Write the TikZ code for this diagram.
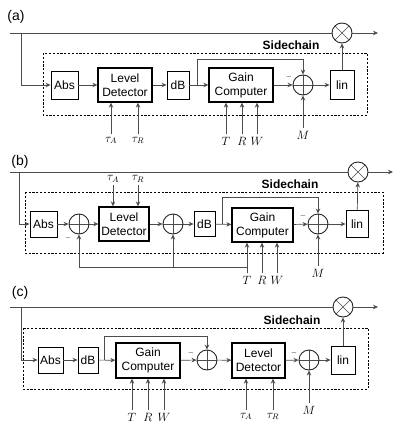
\documentclass[tikz,border=0pt]{standalone}
\usepackage{fontspec}
\setsansfont{Liberation Sans}
\usetikzlibrary{arrows.meta, positioning, calc}
\tikzstyle{line} = [draw, black!70, line width=0.7pt, ->]

\begin{document}
\begin{tikzpicture}[x=1pt, y=-1pt,
          > = {Stealth[length=5pt, width=4.5pt]}, % arrow head style
          shorten > = 0, % arrow head touches the block
          line width = 0.7pt
      ]

      \tikzstyle{block}=[
          draw = black,
          line width = 0.9pt,
          rectangle,
          inner sep = 0pt,
          align = center,
          font = \sffamily\fontsize{12}{14}\selectfont
      ]
      \tikzstyle{bigblock}=[block, line width = 1.3pt]
      \tikzstyle{adder}=[
          draw = black!85,
          circle,
          minimum size = 20pt,
          inner sep = 0pt,
          line width = 0.9pt,
          path picture = {\draw[black!70, line width=0.6pt]
              (path picture bounding box.north) -- (path picture bounding box.south)
              (path picture bounding box.west) -- (path picture bounding box.east);}
      ]
      \tikzstyle{mixer}=[adder,
          path picture = {\draw[black!70, line width=0.6pt]
              (path picture bounding box.north west) -- (path picture bounding box.south east)
              (path picture bounding box.north east) -- (path picture bounding box.south west);}
      ]
      \tikzstyle{panel}=[font = \sffamily\fontsize{14}{16}\selectfont]
      \tikzstyle{side}=[font = \sffamily\bfseries\fontsize{12}{14}\selectfont]
      \tikzstyle{param}=[anchor = north, inner sep = 2.5pt, font = \fontsize{11.5}{13}\selectfont]
      \tikzstyle{neg}=[inner sep = 0pt, font = \scriptsize]
      \tikzstyle{chain}=[draw, black, line width = 0.9pt, dash pattern = on 2.2pt off 1.6pt]

  \useasboundingbox (0,0) rectangle (403,441);

  % ---------- (a) ----------
  \node[panel] (laba) at (16,17) {(a)};
  \coordinate (ina) at (10,33);
  \coordinate (ja) at (21,33);
  \node[mixer] (mula) at (342,33) {};
  \coordinate (outa) at (378,33);
  \node[side] (sidea) at (291,45) {Sidechain};
  \draw[chain] (43,53) rectangle (367,115);

  \node[block, minimum width=27, minimum height=28] (absa) at (64.5,85) {Abs};
  \node[bigblock, minimum width=54, minimum height=34] (lda) at (125,85) {Level\\Detector};
  \node[block, minimum width=22, minimum height=28] (dba) at (178,85) {dB};
  \node[bigblock, minimum width=64, minimum height=34] (gca) at (241,85) {Gain\\Computer};
  \node[adder] (suma) at (303,85) {};
  \node[block, minimum width=24, minimum height=29] (lina) at (342,85) {lin};
  \node[neg] (nega) at (289,77) {$-$};
  \coordinate (ba) at (197,85);
  \coordinate (ka) at (303,59);

  \node[param] (tauAa) at (111,134) {$\tau_A$};
  \node[param] (tauRa) at (138,134) {$\tau_R$};
  \node[param] (Ta) at (226,134) {$T$};
  \node[param] (Ra) at (242,134) {$R$};
  \node[param] (Wa) at (257,134) {$W$};
  \node[param] (Ma) at (303,128) {$M$};

  % Connect blocks
  \draw[black!70] (ina) -- (mula);
  \path[line] (mula) -- (outa);
  \path[line] (ja) |- (absa);
  \path[line] (absa) -- (lda);
  \path[line] (lda) -- (dba);
  \path[line] (dba) -- (gca);
  \path[line] (gca) -- (suma);
  \path[line] (suma) -- (lina);
  \path[line] (lina) -- (mula);
  \path[line] (ba) |- (ka) -- (suma);
  \path[line] (tauAa) -- (tauAa |- lda.south);
  \path[line] (tauRa) -- (tauRa |- lda.south);
  \path[line] (Ta) -- (Ta |- gca.south);
  \path[line] (Ra) -- (Ra |- gca.south);
  \path[line] (Wa) -- (Wa |- gca.south);
  \path[line] (Ma) -- (suma);

  % ---------- (b) ----------
  \node[panel] (labb) at (20,162) {(b)};
  \coordinate (inb) at (10,172);
  \coordinate (jb) at (19,172);
  \node[mixer] (mulb) at (358,172) {};
  \coordinate (outb) at (393,172);
  \node[side] (sideb) at (290,184) {Sidechain};
  \draw[chain] (25,192) rectangle (383,253);

  \node[block, minimum width=27, minimum height=26] (absb) at (43.5,224) {Abs};
  \node[adder] (sum1b) at (79,224) {};
  \node[bigblock, minimum width=50, minimum height=34] (ldb) at (124,224) {Level\\Detector};
  \node[adder] (sum2b) at (173,224) {};
  \node[block, minimum width=21, minimum height=25] (dbb) at (204.5,224) {dB};
  \node[bigblock, minimum width=61, minimum height=34] (gcb) at (262.5,225) {Gain\\Computer};
  \node[adder] (sum3b) at (318,224) {};
  \node[block, minimum width=22, minimum height=27] (linb) at (357,224) {lin};
  \node[neg] (neg1b) at (68,238) {$-$};
  \node[neg] (neg3b) at (303,216) {$-$};
  \coordinate (bb) at (222,224);
  \coordinate (kb) at (318,197);
  \coordinate (fbr) at (247,267);
  \coordinate (fbl) at (79,267);

  \node[param, anchor=south] (tauAb) at (113,185) {$\tau_A$};
  \node[param, anchor=south] (tauRb) at (138,185) {$\tau_R$};
  \node[param] (Tb) at (247,273) {$T$};
  \node[param] (Rb) at (262,273) {$R$};
  \node[param] (Wb) at (277,273) {$W$};
  \node[param] (Mb) at (318,266) {$M$};

  % Connect blocks
  \draw[black!70] (inb) -- (mulb);
  \path[line] (mulb) -- (outb);
  \path[line] (jb) |- (absb);
  \path[line] (absb) -- (sum1b);
  \path[line] (sum1b) -- (ldb);
  \path[line] (ldb) -- (sum2b);
  \path[line] (sum2b) -- (dbb);
  \path[line] (dbb) -- (gcb);
  \path[line] (gcb) -- (sum3b);
  \path[line] (sum3b) -- (linb);
  \path[line] (linb) -- (mulb);
  \path[line] (bb) |- (kb) -- (sum3b);
  \path[line] (tauAb) -- (tauAb |- ldb.north);
  \path[line] (tauRb) -- (tauRb |- ldb.north);
  \path[line] (Tb) -- (Tb |- gcb.south);
  \path[line] (Rb) -- (Rb |- gcb.south);
  \path[line] (Wb) -- (Wb |- gcb.south);
  \path[line] (Mb) -- (sum3b);
  \draw[black!70] (fbr) -- (fbl);
  \path[line] (fbl) -- (sum1b);
  \path[line] (sum2b |- fbl) -- (sum2b);

  % ---------- (c) ----------
  \node[panel] (labc) at (20,293) {(c)};
  \coordinate (inc) at (10,307);
  \coordinate (jc) at (21,307);
  \node[mixer] (mulc) at (343,307) {};
  \coordinate (outc) at (378,307);
  \node[side] (sidec) at (292,320) {Sidechain};
  \draw[chain] (23,328) rectangle (368,389);

  \node[block, minimum width=25, minimum height=26] (absc) at (50.5,360) {Abs};
  \node[block, minimum width=20, minimum height=26] (dbc) at (88,360) {dB};
  \node[bigblock, minimum width=64, minimum height=35] (gcc) at (148,360.5) {Gain\\Computer};
  \node[adder] (sum1c) at (207,360) {};
  \node[bigblock, minimum width=53, minimum height=35] (ldc) at (258.5,360.5) {Level\\Detector};
  \node[adder] (sum2c) at (309,360) {};
  \node[block, minimum width=24, minimum height=28] (linc) at (343,360) {lin};
  \node[neg] (neg1c) at (191,353) {$-$};
  \node[neg] (neg2c) at (294,353) {$-$};
  \coordinate (bc) at (104,360);
  \coordinate (kc) at (207,336);

  \node[param] (Tc) at (132,410) {$T$};
  \node[param] (Rc) at (148,410) {$R$};
  \node[param] (Wc) at (164,410) {$W$};
  \node[param] (tauAc) at (246,410) {$\tau_A$};
  \node[param] (tauRc) at (273,410) {$\tau_R$};
  \node[param] (Mc) at (309,403) {$M$};

  % Connect blocks
  \draw[black!70] (inc) -- (mulc);
  \path[line] (mulc) -- (outc);
  \path[line] (jc) |- (absc);
  \path[line] (absc) -- (dbc);
  \path[line] (dbc) -- (gcc);
  \path[line] (gcc) -- (sum1c);
  \path[line] (sum1c) -- (ldc);
  \path[line] (ldc) -- (sum2c);
  \path[line] (sum2c) -- (linc);
  \path[line] (linc) -- (mulc);
  \path[line] (bc) |- (kc) -- (sum1c);
  \path[line] (Tc) -- (Tc |- gcc.south);
  \path[line] (Rc) -- (Rc |- gcc.south);
  \path[line] (Wc) -- (Wc |- gcc.south);
  \path[line] (tauAc) -- (tauAc |- ldc.south);
  \path[line] (tauRc) -- (tauRc |- ldc.south);
  \path[line] (Mc) -- (sum2c);
\end{tikzpicture}
\end{document}
